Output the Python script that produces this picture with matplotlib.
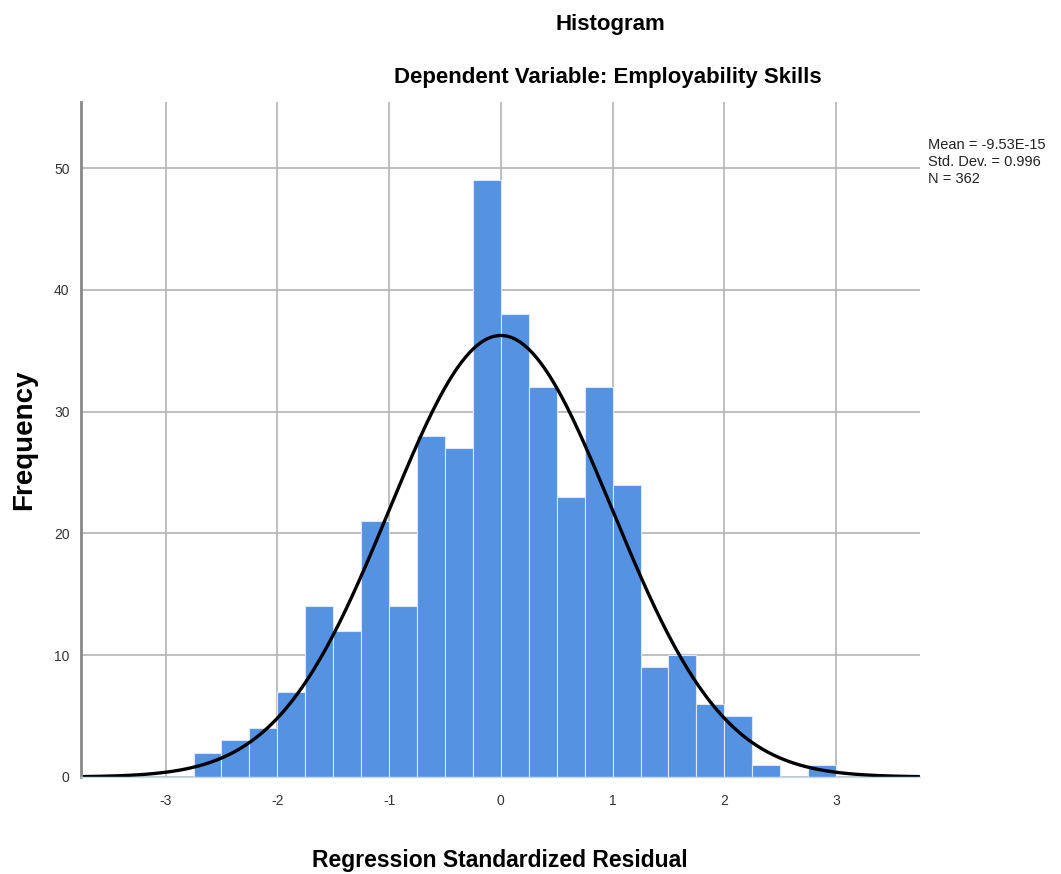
import numpy as np
import matplotlib
matplotlib.use("Agg")
import matplotlib.pyplot as plt

plt.rcParams['font.family'] = ['Liberation Sans', 'DejaVu Sans']
plt.rcParams['axes.unicode_minus'] = False

# histogram bins (left edges) and counts
bin_start = -2.75
bin_width = 0.25
counts = [2, 3, 4, 7, 14, 12, 21, 14, 28, 27, 49, 38, 32, 23, 32, 24,
          9, 10, 6, 5, 1, 0, 1]
mean = -9.53e-15
sd = 0.996
n = 362

xticks = [-3, -2, -1, 0, 1, 2, 3]
yticks = [0, 10, 20, 30, 40, 50]

lefts = bin_start + bin_width * np.arange(len(counts))

fig = plt.figure(figsize=(10.61, 8.74), dpi=100)
ax = fig.add_axes([0.076, 0.111, 0.791, 0.772])

ax.set_axisbelow(True)
ax.grid(True, color='#b4b4b4', linewidth=1.2)

ax.bar(lefts, counts, width=bin_width, align='edge', color='#5592e2',
       edgecolor='#dce8f8', linewidth=0.8)

xs = np.linspace(-3.76, 3.75, 400)
curve = n * bin_width * np.exp(-0.5 * ((xs - mean) / sd) ** 2) / (sd * np.sqrt(2 * np.pi))
ax.plot(xs, curve, color='black', linewidth=2.4, solid_capstyle='butt')

ax.set_xlim(-3.76, 3.75)
ax.set_ylim(0, 55.4)
ax.set_xticks(xticks)
ax.set_yticks(yticks)
ax.tick_params(length=0, labelsize=10, colors='#333333', pad=12)
ax.tick_params(axis='y', pad=8)

for s in ['top', 'right']:
    ax.spines[s].set_visible(False)
ax.spines['left'].set_color('#888888')
ax.spines['left'].set_linewidth(2)
ax.spines['bottom'].set_color('#c8d8ee')
ax.spines['bottom'].set_linewidth(1)

fig.text(0.575, 0.972, 'Histogram', ha='center', va='center',
         fontsize=16, fontweight='bold')
fig.text(0.573, 0.911, 'Dependent Variable: Employability Skills', ha='center',
         va='center', fontsize=16, fontweight='bold')
ax.set_xlabel('Regression Standardized Residual', fontsize=16.5,
              fontweight='bold', labelpad=30)
ax.set_ylabel('Frequency', fontsize=20, fontweight='bold')
ax.yaxis.set_label_coords(-0.052, 0.5)

fig.text(0.875, 0.842, 'Mean = -9.53E-15\nStd. Dev. = 0.996\nN = 362',
         ha='left', va='top', fontsize=10.5, linespacing=1.25, color='#222222')

fig.savefig('out.png', dpi=100)
